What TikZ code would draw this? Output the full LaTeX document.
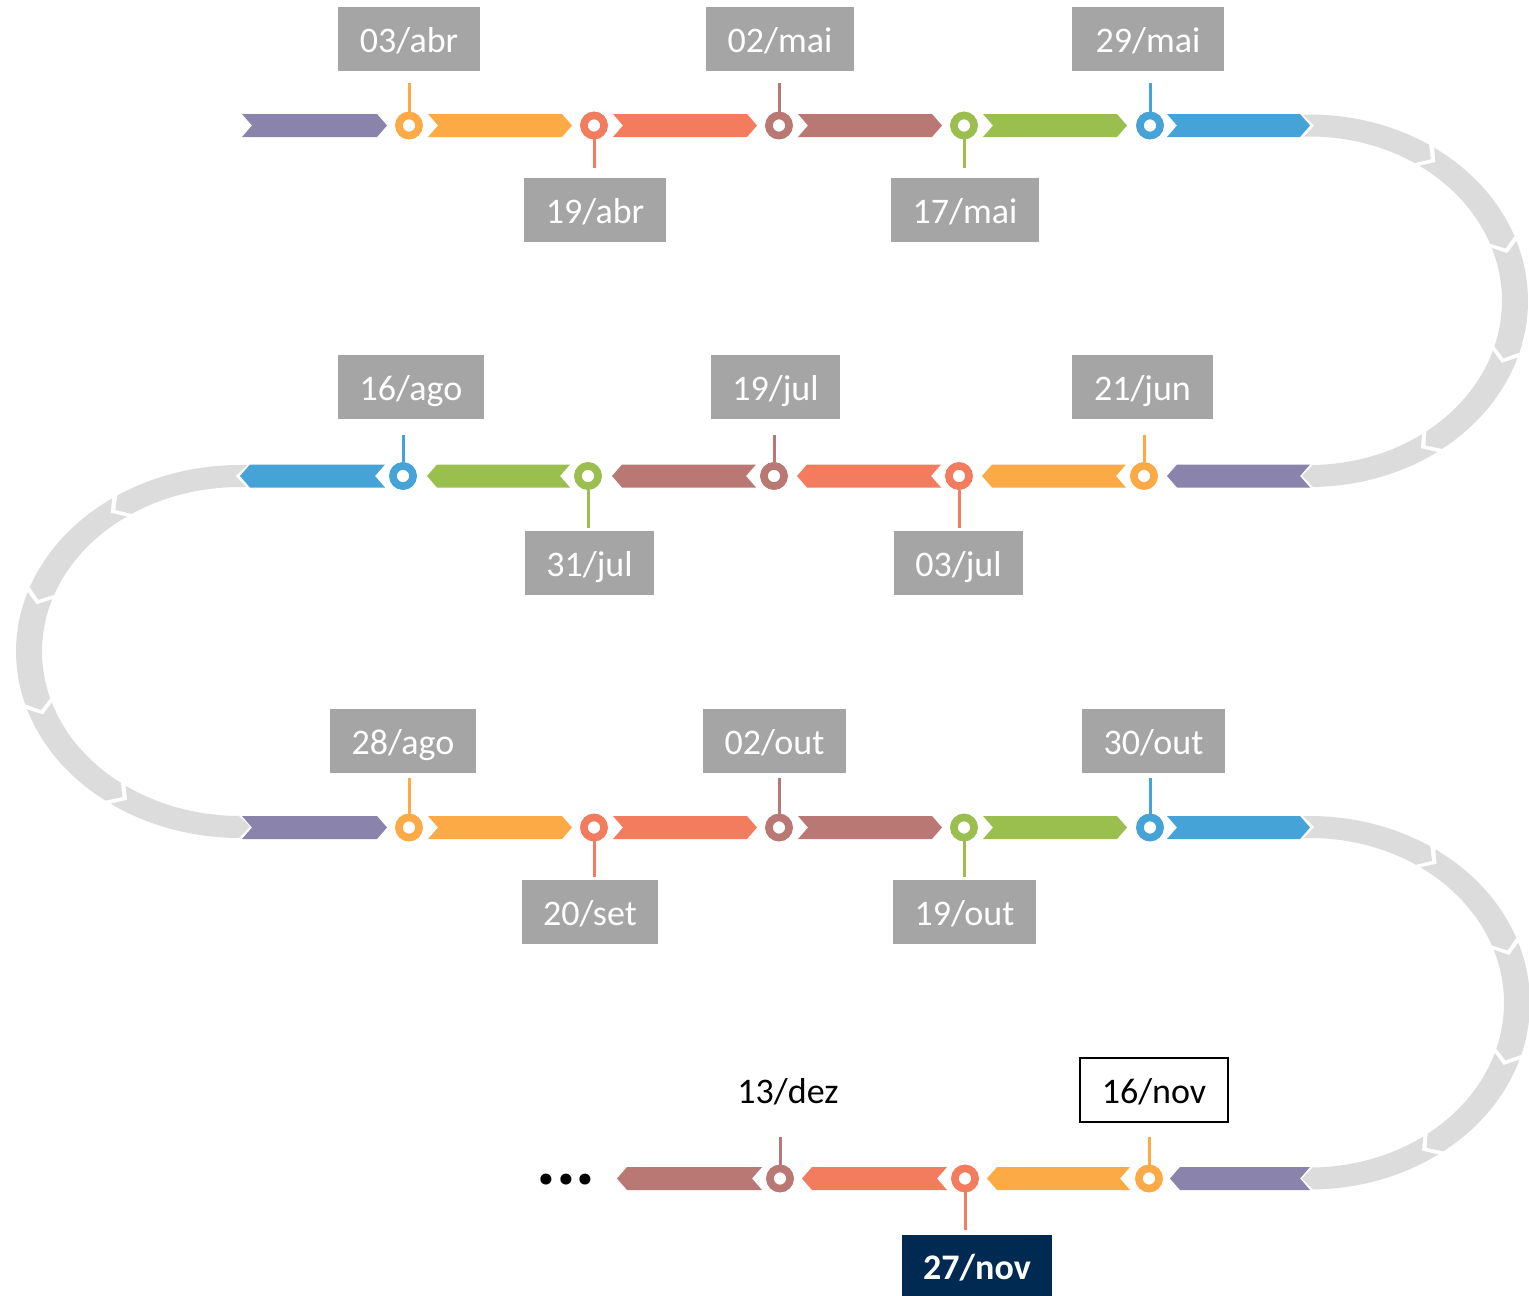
\documentclass[tikz,border=0pt]{standalone}
\usepackage{fontspec}
\setmainfont{Carlito}
\definecolor{cpur}{HTML}{8A83AC}
\definecolor{cora}{HTML}{FBAA46}
\definecolor{cred}{HTML}{F37C5E}
\definecolor{cbro}{HTML}{B97874}
\definecolor{cgre}{HTML}{9BBF4F}
\definecolor{cblu}{HTML}{45A3D8}
\definecolor{gband}{HTML}{DCDCDC}
\definecolor{labgray}{HTML}{A5A5A5}
\definecolor{navy}{HTML}{002A52}
\tikzset{
  lab/.style={fill=labgray, text=white, inner sep=0pt, minimum height=64pt,
    font=\fontsize{36}{40}\selectfont, text height=26pt, text depth=0pt},
  pinring/.style={circle, draw=#1, line width=7.5pt, fill=white, minimum size=20pt, inner sep=0pt},
  stem/.style={draw=#1, line width=3pt},
}
% rightward chevron: x1 (notch) x2 (tip) y colour
\newcommand\rarrow[4]{\fill[#4] (#1,#3-11.5) -- (#2-10,#3-11.5) -- (#2,#3) -- (#2-10,#3+11.5) -- (#1,#3+11.5) -- (#1+10,#3) -- cycle;}
% leftward chevron: x1 (tip) x2 (notch) y colour
\newcommand\larrow[4]{\fill[#4] (#1,#3) -- (#1+10,#3-11.5) -- (#2,#3-11.5) -- (#2-10,#3) -- (#2,#3+11.5) -- (#1+10,#3+11.5) -- cycle;}
% pin: name x y colour stem-end-y
\newcommand\pinmark[5]{%
  \node[pinring=#4] (#1) at (#2,#3) {};
  \coordinate (#1e) at (#2,#5);
  \draw[stem=#4] (#1) -- (#1e);
  \node[pinring=#4] at (#2,#3) {};}
% gray curved band: cx cy rx ry t0 t1 sign
\newcommand\graycurve[7]{%
  \foreach \i in {0,...,4}{%
    \pgfmathsetmacro\La{(abs(#6-(#5))-4*1.6)/5}%
    \pgfmathsetmacro\sa{#5+#7*\i*(\La+1.6)}%
    \pgfmathsetmacro\sb{\sa+#7*\La}%
    \pgfmathsetmacro\dd{#7*3}%
    \fill[gband] plot[domain=\sa:\sb,samples=30] ({#1+(#3+13)*cos(\x)},{#2+(#4+11)*sin(\x)})
      -- ({#1+#3*cos(\sb+\dd)},{#2+#4*sin(\sb+\dd)})
      -- plot[domain=\sb:\sa,samples=30] ({#1+(#3-13)*cos(\x)},{#2+(#4-11)*sin(\x)})
      -- ({#1+#3*cos(\sa+\dd)},{#2+#4*sin(\sa+\dd)}) -- cycle;
  }}
\begin{document}
\begin{tikzpicture}[x=1pt,y=-1pt]
\useasboundingbox[fill=white] (0,0) rectangle (1529,1296);
% gray connecting curves
\graycurve{1310}{300.75}{205}{175.25}{-91.8}{89.2}{1}
\graycurve{240}{651.5}{211}{175.5}{271.8}{90.3}{-1}
\graycurve{1310}{1002.75}{207}{175.75}{-91.8}{89.2}{1}
% row 1
\rarrow{242}{387}{125.5}{cpur}
\rarrow{428}{572}{125.5}{cora}
\rarrow{613}{757}{125.5}{cred}
\rarrow{798}{942}{125.5}{cbro}
\rarrow{983}{1127}{125.5}{cgre}
\rarrow{1167}{1310}{125.5}{cblu}
\pinmark{a1}{409}{125.5}{cora}{83}
\pinmark{a2}{594}{125.5}{cred}{168}
\pinmark{a3}{779}{125.5}{cbro}{83}
\pinmark{a4}{964}{125.5}{cgre}{168}
\pinmark{a5}{1150}{125.5}{cblu}{83}
\node[lab, minimum width=142pt] (l1) at (409,39) {03/abr};
\node[lab, minimum width=142pt] (l2) at (595,210) {19/abr};
\node[lab, minimum width=148pt] (l3) at (780,39) {02/mai};
\node[lab, minimum width=148pt] (l4) at (965,210) {17/mai};
\node[lab, minimum width=152pt] (l5) at (1148,39) {29/mai};
% row 2
\larrow{240}{385}{476}{cblu}
\larrow{427}{570}{476}{cgre}
\larrow{612}{756}{476}{cbro}
\larrow{797}{941}{476}{cred}
\larrow{982}{1126}{476}{cora}
\larrow{1167}{1310}{476}{cpur}
\pinmark{b1}{403}{476}{cblu}{435}
\pinmark{b2}{588}{476}{cgre}{528}
\pinmark{b3}{774}{476}{cbro}{435}
\pinmark{b4}{959}{476}{cred}{528}
\pinmark{b5}{1144}{476}{cora}{435}
\node[lab, minimum width=146pt] (m1) at (411,387) {16/ago};
\node[lab, minimum width=129pt] (m2) at (589.5,563) {31/jul};
\node[lab, minimum width=129pt] (m3) at (775.5,387) {19/jul};
\node[lab, minimum width=129pt] (m4) at (958.5,563) {03/jul};
\node[lab, minimum width=141pt] (m5) at (1142.5,387) {21/jun};
% row 3
\rarrow{242}{387}{827.5}{cpur}
\rarrow{428}{572}{827.5}{cora}
\rarrow{613}{757}{827.5}{cred}
\rarrow{798}{942}{827.5}{cbro}
\rarrow{983}{1127}{827.5}{cgre}
\rarrow{1167}{1310}{827.5}{cblu}
\pinmark{c1}{409}{827.5}{cora}{778}
\pinmark{c2}{594}{827.5}{cred}{877}
\pinmark{c3}{779}{827.5}{cbro}{778}
\pinmark{c4}{964}{827.5}{cgre}{877}
\pinmark{c5}{1150}{827.5}{cblu}{778}
\node[lab, minimum width=146pt] (n1) at (403,741) {28/ago};
\node[lab, minimum width=136pt] (n2) at (590,912) {20/set};
\node[lab, minimum width=143pt] (n3) at (774.5,741) {02/out};
\node[lab, minimum width=143pt] (n4) at (964.5,912) {19/out};
\node[lab, minimum width=143pt] (n5) at (1153.5,741) {30/out};
% row 4
\larrow{617}{762}{1178.5}{cbro}
\larrow{802}{947}{1178.5}{cred}
\larrow{987}{1130}{1178.5}{cora}
\larrow{1170}{1310}{1178.5}{cpur}
\pinmark{d1}{780}{1178.5}{cbro}{1137}
\pinmark{d2}{965}{1178.5}{cred}{1230}
\pinmark{d3}{1149}{1178.5}{cora}{1137}
\node[anchor=base, inner sep=0pt, font=\fontsize{74}{76}\selectfont\bfseries] (dots) at (566,1184) {...};
\node[anchor=base, inner sep=0pt, font=\fontsize{36}{40}\selectfont] (o1) at (788,1103) {13/dez};
\node[lab, fill=white, text=black, draw=black, line width=1.5pt, minimum width=148pt] (o3) at (1154,1090) {16/nov};
\node[lab, fill=navy, font=\fontsize{36}{40}\selectfont\bfseries, minimum width=150pt, minimum height=62pt] (o2) at (977,1266) {27/nov};
\end{tikzpicture}
\end{document}
